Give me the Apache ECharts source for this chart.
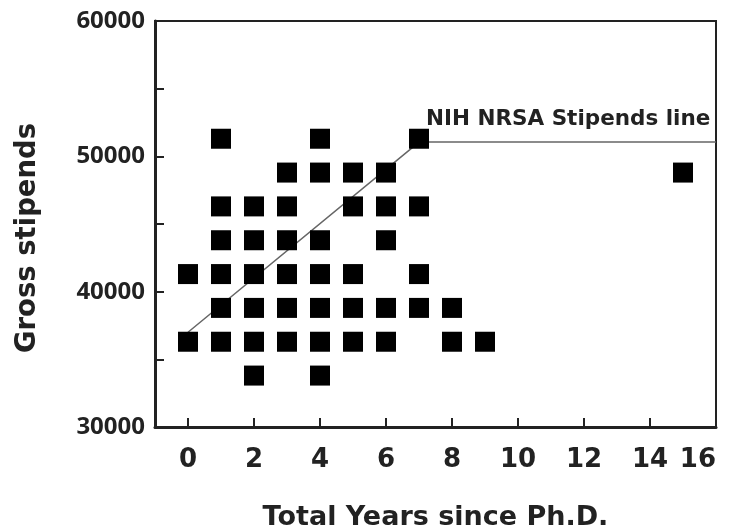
<!DOCTYPE html>
<html lang="en">
<head>
    <meta charset="UTF-8">
    <title>Gross stipends</title>
    <script src="https://cdn.jsdelivr.net/npm/echarts@6/dist/echarts.min.js"></script>
    <style>
        html, body { margin: 0; padding: 0; background: #fff; }
    </style>
</head>
<body>
<div id="main" style="width: 732px;height:531px;"></div>
<script type="text/javascript">
    // tick labels
    var xTicks = [0, 2, 4, 6, 8, 10, 12, 14, 16];
    var yTicks = [30000, 40000, 50000, 60000];

    // stipend levels
    var years = [0, 0,
        1, 1, 1, 1, 1, 1,
        2, 2, 2, 2, 2, 2,
        3, 3, 3, 3, 3, 3,
        4, 4, 4, 4, 4, 4, 4,
        5, 5, 5, 5, 5,
        6, 6, 6, 6, 6,
        7, 7, 7, 7,
        8, 8,
        9,
        15];
    var stipends = [41300, 36300,
        51300, 46300, 43800, 41300, 38800, 36300,
        46300, 43800, 41300, 38800, 36300, 33800,
        48800, 46300, 43800, 41300, 38800, 36300,
        51300, 48800, 43800, 41300, 38800, 36300, 33800,
        48800, 46300, 41300, 38800, 36300,
        48800, 46300, 43800, 38800, 36300,
        51300, 46300, 41300, 38800,
        38800, 36300,
        36300,
        48800];

    // NIH NRSA stipends line
    var nrsaYears = [0, 7, 16];
    var nrsaValues = [37000, 51050, 51050];

    var points = years.map(function (y, i) { return [y, stipends[i]]; });
    var nrsa = nrsaYears.map(function (y, i) {
        var item = { value: [y, nrsaValues[i]] };
        if (i === 1) {
            item.label = {
                show: true,
                formatter: 'NIH NRSA Stipends line',
                position: 'top',
                align: 'left',
                distance: 12,
                offset: [7, 0],
                color: '#222',
                fontFamily: 'DejaVu Sans',
                fontWeight: 'bold',
                fontSize: 21.5
            };
        }
        return item;
    });

    var myChart = echarts.init(document.getElementById('main'));
    var option = {
        backgroundColor: '#fff',
        animation: false,
        grid: {
            left: 155,
            right: 16,
            top: 21,
            bottom: 104,
            outerBoundsMode: 'none',
            containLabel: false,
            show: true,
            borderColor: '#222',
            borderWidth: 2
        },
        xAxis: {
            type: 'value',
            min: -1,
            max: 16,
            name: 'Total Years since Ph.D.',
            nameLocation: 'middle',
            nameGap: 77,
            nameTextStyle: { fontFamily: 'DejaVu Sans', fontWeight: 'bold', fontSize: 27, color: '#222' },
            splitLine: { show: false },
            axisLine: { show: true, onZero: false, lineStyle: { color: '#222', width: 3 } },
            axisTick: {
                show: true,
                inside: true,
                length: 9,
                customValues: xTicks.slice(0, xTicks.length - 1),
                lineStyle: { color: '#222', width: 2 }
            },
            axisLabel: {
                customValues: xTicks,
                alignMaxLabel: 'right',
                margin: 20,
                fontFamily: 'DejaVu Sans',
                fontWeight: 'bold',
                fontSize: 26,
                color: '#222'
            }
        },
        yAxis: {
            type: 'value',
            min: 30000,
            max: 60000,
            interval: 5000,
            name: 'Gross stipends',
            nameLocation: 'middle',
            nameGap: 113,
            nameRotate: 90,
            nameTextStyle: {
                fontFamily: 'DejaVu Sans',
                fontWeight: 'bold',
                fontSize: 27.5,
                color: '#222',
                padding: [0, 28, 0, 0]
            },
            splitLine: { show: false },
            axisLine: { show: true, onZero: false, lineStyle: { color: '#222', width: 3 } },
            axisTick: {
                show: true,
                inside: true,
                length: 9,
                lineStyle: { color: '#222', width: 2 }
            },
            axisLabel: {
                customValues: yTicks,
                formatter: function (v) { return String(v); },
                margin: 10,
                fontFamily: 'Open Sans',
                fontWeight: 'bold',
                fontSize: 24,
                color: '#222'
            }
        },
        series: [
            {
                name: 'NIH NRSA',
                type: 'line',
                data: nrsa,
                symbol: 'circle',
                symbolSize: 0.1,
                z: 1,
                lineStyle: { color: '#666', width: 1.5 },
                itemStyle: { color: '#666' }
            },
            {
                name: 'Stipends',
                type: 'scatter',
                data: points,
                symbol: 'rect',
                symbolSize: 20,
                z: 3,
                itemStyle: { color: '#000', opacity: 1 }
            }
        ]
    };
    myChart.setOption(option);
</script>
</body>
</html>
